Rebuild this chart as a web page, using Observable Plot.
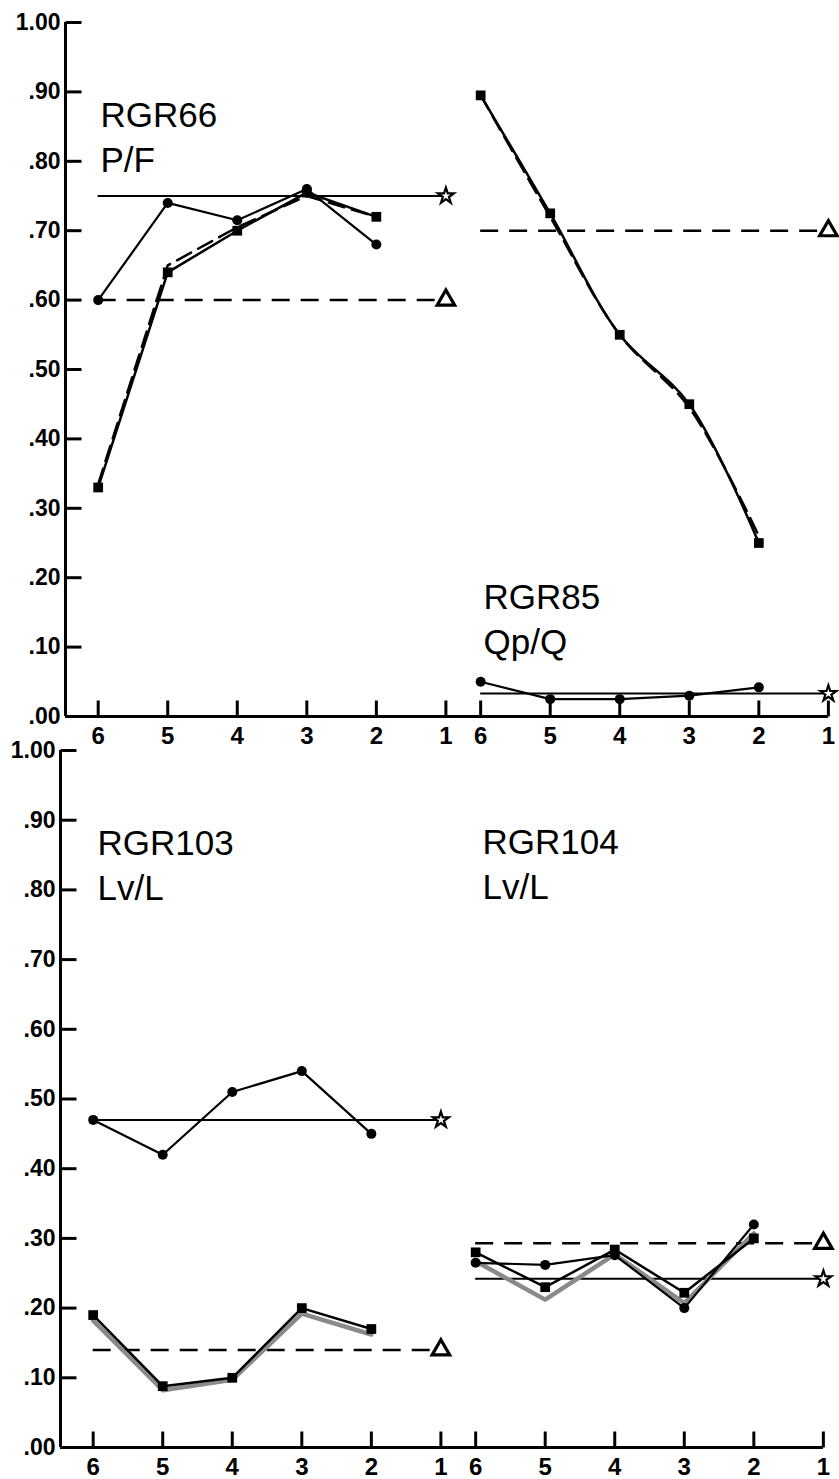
<!DOCTYPE html>
<html><head><meta charset="utf-8">
<script src="https://cdn.jsdelivr.net/npm/d3@7"></script>
<script src="https://cdn.jsdelivr.net/npm/@observablehq/plot@0.6"></script>
<style>
body{margin:0;background:#fff;}
#chart svg{display:block;}
</style></head><body><div id="chart"></div>
<script>
// ---- data ----
const stages = [6, 5, 4, 3, 2, 1];
const dataStages = [6, 5, 4, 3, 2];
const yTicks = [0, .1, .2, .3, .4, .5, .6, .7, .8, .9, 1];

// Top-left panel: RGR66 P/F
const rgr66Label = "RGR66\nP/F";
const rgr66Circle = [0.60, 0.74, 0.715, 0.76, 0.68];
const rgr66Square = [0.33, 0.64, 0.70, 0.755, 0.72];
const rgr66Dashed = [0.335, 0.65, 0.705, 0.75, 0.72];
const rgr66SolidRef = 0.75;
const rgr66DashedRef = 0.60;

// Top-right panel: RGR85 Qp/Q
const rgr85Label = "RGR85\nQp/Q";
const rgr85Circle = [0.05, 0.025, 0.025, 0.03, 0.042];
const rgr85Square = [0.895, 0.725, 0.55, 0.45, 0.25];
const rgr85Dashed = [0.895, 0.72, 0.55, 0.445, 0.26];
const rgr85SolidRef = 0.033;
const rgr85DashedRef = 0.70;

// Bottom-left panel: RGR103 Lv/L
const rgr103Label = "RGR103\nLv/L";
const rgr103Circle = [0.47, 0.42, 0.51, 0.54, 0.45];
const rgr103Square = [0.19, 0.088, 0.10, 0.20, 0.17];
const rgr103Gray = [0.185, 0.085, 0.10, 0.195, 0.165];
const rgr103SolidRef = 0.47;
const rgr103DashedRef = 0.14;

// Bottom-right panel: RGR104 Lv/L
const rgr104Label = "RGR104\nLv/L";
const rgr104Circle = [0.265, 0.262, 0.276, 0.20, 0.32];
const rgr104Square = [0.28, 0.23, 0.284, 0.222, 0.30];
const rgr104Gray = [0.27, 0.215, 0.28, 0.21, 0.31];
const rgr104SolidRef = 0.242;
const rgr104DashedRef = 0.293;

// ---- layout helpers ----
const PANEL_SHIFT = 5.5;
const pos = (panel, stage) => panel * PANEL_SHIFT + (6 - stage);
const rows = (panel, values) => values.map((v, i) => ({x: pos(panel, dataStages[i]), y: v}));
const xTickPos = [0, 1].flatMap(p => stages.map(s => pos(p, s)));
const xTickLab = new Map([0, 1].flatMap(p => stages.map(s => [pos(p, s), String(s)])));
const XMIN = -0.47, XMAX = 10.66;
const PLOT_W = 774;
const TICK_PX = 16;

const FONT = "'Liberation Sans',Arial,Helvetica,sans-serif";

function refLines(panel, solidV, dashedV) {
  const x1 = pos(panel, 6), x2 = pos(panel, 1);
  return [
    Plot.ruleY([solidV], {x1, x2, stroke: "black", strokeWidth: 2}),
    Plot.ruleY([dashedV], {x1, x2, stroke: "black", strokeWidth: 2.5, strokeDasharray: "18,11"}),
    Plot.dot([{x: x2, y: solidV}], {x: "x", y: "y", symbol: "star", r: 5, fill: "white", stroke: "black", strokeWidth: 2.2}),
    Plot.dot([{x: x2, y: dashedV}], {x: "x", y: "y", symbol: "triangle", r: 6.5, fill: "white", stroke: "black", strokeWidth: 3.2})
  ];
}

function seriesMarks(panel, circle, square, third, thirdStyle, curve) {
  const c = rows(panel, circle), s = rows(panel, square), t = rows(panel, third);
  const thirdMark = thirdStyle === "dashed"
    ? Plot.line(t, {x: "x", y: "y", stroke: "black", strokeWidth: 2.5, strokeDasharray: "16,8", curve})
    : Plot.line(t, {x: "x", y: "y", stroke: "#8a8a8a", strokeWidth: 4.5, curve, dy: 2});
  return [
    thirdMark,
    Plot.line(s, {x: "x", y: "y", stroke: "black", strokeWidth: 2.5, curve}),
    Plot.line(c, {x: "x", y: "y", stroke: "black", strokeWidth: 2.2}),
    Plot.dot(s, {x: "x", y: "y", symbol: "square", r: 5.5, fill: "black"}),
    Plot.dot(c, {x: "x", y: "y", r: 5, fill: "black"})
  ];
}

function axes(plotH) {
  const tx = TICK_PX * (XMAX - XMIN) / PLOT_W;
  const ty = TICK_PX / plotH;
  const yTickRows = yTicks.map(v => ({a: XMIN, b: XMIN + tx, v}));
  const xTickRows = xTickPos.map(p => ({p, a: 0, b: ty}));
  return [
    Plot.ruleX([XMIN], {y1: 0, y2: 1, stroke: "black", strokeWidth: 3}),
    Plot.ruleY([0], {x1: XMIN, x2: pos(1, 1), stroke: "black", strokeWidth: 3}),
    Plot.link(yTickRows, {x1: "a", x2: "b", y1: "v", y2: "v", stroke: "black", strokeWidth: 3}),
    Plot.link(xTickRows, {x1: "p", x2: "p", y1: "a", y2: "b", stroke: "black", strokeWidth: 3}),
    Plot.axisY({ticks: yTicks, label: null, tickSize: 0, tickPadding: 5,
      tickFormat: d => d === 1 ? "1.00" : d3.format(".2f")(d).slice(1),
      fontSize: 23, fontWeight: "bold", letterSpacing: -1}),
    Plot.axisX({ticks: xTickPos, label: null, tickSize: 0, tickPadding: 10,
      tickFormat: d => xTickLab.get(d), fontSize: 24, fontWeight: "bold"})
  ];
}

const labelStyle = {textAnchor: "start", lineAnchor: "top", fontSize: 35, lineHeight: 1.27, fill: "black"};

const topPlot = Plot.plot({
  width: 839, height: 745,
  marginTop: 22, marginBottom: 29, marginLeft: 65, marginRight: 0,
  x: {domain: [XMIN, XMAX]},
  y: {domain: [0, 1]},
  style: {fontFamily: FONT, overflow: "visible", background: "white", color: "black"},
  marks: [
    ...axes(745 - 22 - 29),
    ...refLines(0, rgr66SolidRef, rgr66DashedRef),
    ...seriesMarks(0, rgr66Circle, rgr66Square, rgr66Dashed, "dashed", "linear"),
    ...refLines(1, rgr85SolidRef, rgr85DashedRef),
    ...seriesMarks(1, rgr85Circle, rgr85Square, rgr85Dashed, "dashed", "catmull-rom"),
    Plot.text([rgr66Label], {frameAnchor: "top-left", dx: 35, dy: 73, ...labelStyle}),
    Plot.text([rgr85Label], {frameAnchor: "top-left", dx: 418, dy: 555, ...labelStyle})
  ]
});

const bottomPlot = Plot.plot({
  width: 839, height: 734,
  marginTop: 5, marginBottom: 32, marginLeft: 60, marginRight: 5,
  x: {domain: [XMIN, XMAX]},
  y: {domain: [0, 1]},
  style: {fontFamily: FONT, overflow: "visible", background: "white", color: "black"},
  marks: [
    ...axes(734 - 5 - 32),
    ...refLines(0, rgr103SolidRef, rgr103DashedRef),
    ...seriesMarks(0, rgr103Circle, rgr103Square, rgr103Gray, "gray", "linear"),
    ...refLines(1, rgr104SolidRef, rgr104DashedRef),
    ...seriesMarks(1, rgr104Circle, rgr104Square, rgr104Gray, "gray", "linear"),
    Plot.text([rgr103Label], {frameAnchor: "top-left", dx: 37, dy: 73, ...labelStyle}),
    Plot.text([rgr104Label], {frameAnchor: "top-left", dx: 422, dy: 72, ...labelStyle})
  ]
});

const chart = document.getElementById("chart");
chart.appendChild(topPlot);
chart.appendChild(bottomPlot);
</script></body></html>
